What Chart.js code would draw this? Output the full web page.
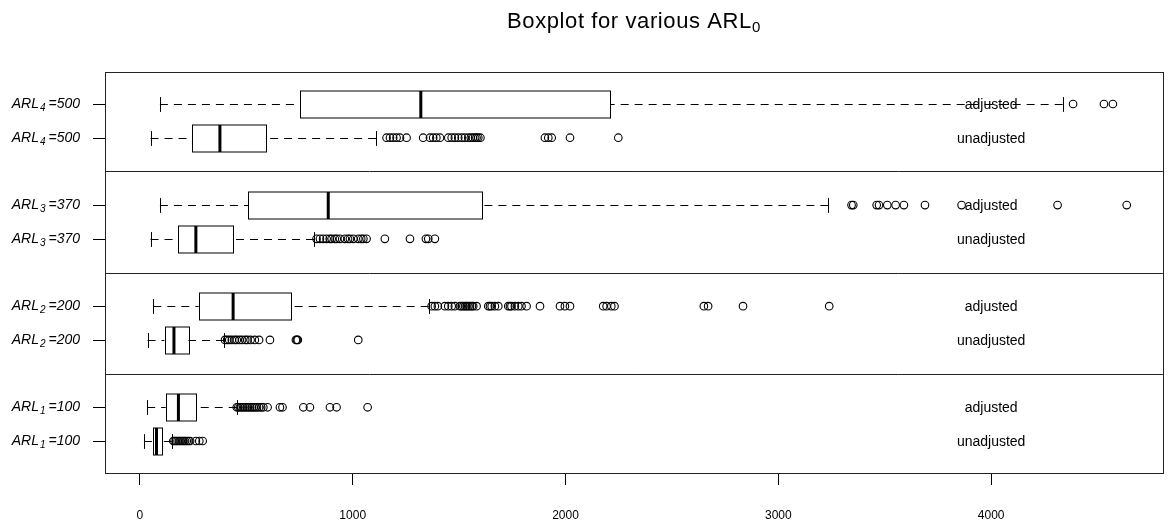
<!DOCTYPE html>
<html>
<head>
<meta charset="utf-8">
<title>Boxplot for various ARL0</title>
<script src="https://cdn.jsdelivr.net/npm/chart.js@4.4.1/dist/chart.umd.min.js"></script>
<style>
    body { margin: 0; background: #fff; }
    #wrap { position: relative; width: 1168px; height: 524px; }
</style>
</head>
<body>
<div id="wrap"><canvas id="boxChart"></canvas></div>
<script>
console.log("boxplot init")

// rows from top to bottom
var arlIdx = [4, 4, 3, 3, 2, 2, 1, 1];
var arlVal = [500, 500, 370, 370, 200, 200, 100, 100];
var methodLabels = ['adjusted', 'unadjusted', 'adjusted', 'unadjusted', 'adjusted', 'unadjusted', 'adjusted', 'unadjusted'];
var rowPos = [1, 2, 4, 5, 7, 8, 10, 11];
var groupLines = [3, 6, 9];

var whiskerLow = [94, 50, 94, 50, 63, 36, 34, 19];
var q1 = [752, 243, 509, 177, 277, 116, 122, 63];
var median = [1320, 376, 885, 263, 438, 160, 181, 78];
var q3 = [2209, 592, 1609, 436, 710, 227, 263, 107];
var whiskerHigh = [4336, 1110, 3235, 818, 1357, 395, 455, 150];

var outliers = [
    [4385, 4530, 4572],
    [1159, 1175, 1190, 1206, 1222, 1253, 1331, 1363, 1378, 1393, 1410, 1449, 1465, 1480, 1496, 1512, 1527, 1543,
        1555, 1565, 1575, 1582, 1590, 1600, 1903, 1919, 1935, 2021, 2248],
    [3344, 3352, 3462, 3473, 3512, 3551, 3590, 3689, 3861, 4312, 4637],
    [830, 846, 861, 877, 892, 901, 916, 925, 940, 963, 978, 987, 1003, 1026, 1040, 1050, 1065, 1151, 1269, 1344,
        1355, 1386],
    [1371, 1386, 1400, 1433, 1449, 1465, 1480, 1504, 1512, 1520, 1528, 1535, 1543, 1551, 1560, 1566, 1582, 1637,
        1645, 1653, 1668, 1684, 1731, 1739, 1746, 1762, 1778, 1793, 1817, 1880, 1974, 1997, 2021, 2177, 2193, 2215,
        2230, 2650, 2670, 2834, 3239],
    [400, 410, 420, 432, 445, 455, 468, 480, 495, 505, 520, 540, 560, 611, 733, 738, 742, 1026],
    [455, 462, 470, 478, 486, 494, 502, 510, 518, 526, 534, 542, 550, 560, 570, 580, 600, 658, 670, 768, 799, 893,
        924, 1070],
    [157, 163, 170, 177, 184, 191, 198, 205, 212, 220, 228, 236, 263, 279, 295]
];

var xTicks = [0, 1000, 2000, 3000, 4000];
var xMin = -164, xMax = 4807;
var methodTextAt = 4000;

var boxHalf = 0.4;
var stapleHalf = 0.22;

var fontMain = '"Liberation Sans", Arial, sans-serif';

function drawLabel(ctx, right, y, idx, val) {
    // ARL_i =val, italic with a subscript
    var big = 'italic 14px ' + fontMain;
    var small = 'italic 10px ' + fontMain;
    ctx.font = big;
    var w1 = ctx.measureText('ARL').width;
    var w3 = ctx.measureText(' =' + val).width;
    ctx.font = small;
    var w2 = ctx.measureText(String(idx)).width;
    var x = right - (w1 + w2 + w3);
    ctx.textAlign = 'left';
    ctx.textBaseline = 'middle';
    ctx.font = big;
    ctx.fillText('ARL', x, y);
    ctx.font = small;
    ctx.fillText(String(idx), x + w1 + 1, y + 4);
    ctx.font = big;
    ctx.fillText(' =' + val, x + w1 + w2, y);
}

var boxPlugin = {
    id: 'boxPlugin',
    beforeDatasetsDraw: function (chart) {
        var ctx = chart.ctx;
        var xs = chart.scales.x, ys = chart.scales.y;
        var half = Math.abs(ys.getPixelForValue(boxHalf) - ys.getPixelForValue(0));
        var sh = Math.abs(ys.getPixelForValue(stapleHalf) - ys.getPixelForValue(0));
        ctx.save();
        ctx.strokeStyle = '#000';
        ctx.lineWidth = 1;

        for (var i = 0; i < rowPos.length; i++) {
            var y = Math.round(ys.getPixelForValue(rowPos[i])) + 0.5;
            var xl = xs.getPixelForValue(whiskerLow[i]);
            var x1 = xs.getPixelForValue(q1[i]);
            var xm = xs.getPixelForValue(median[i]);
            var x3 = xs.getPixelForValue(q3[i]);
            var xh = xs.getPixelForValue(whiskerHigh[i]);

            // whiskers
            ctx.setLineDash([8, 6]);
            ctx.beginPath();
            ctx.moveTo(xl, y); ctx.lineTo(x1, y);
            ctx.moveTo(xh, y); ctx.lineTo(x3, y);
            ctx.stroke();
            ctx.setLineDash([]);

            // staples
            ctx.beginPath();
            ctx.moveTo(Math.round(xl) + 0.5, y - sh); ctx.lineTo(Math.round(xl) + 0.5, y + sh);
            ctx.moveTo(Math.round(xh) + 0.5, y - sh); ctx.lineTo(Math.round(xh) + 0.5, y + sh);
            ctx.stroke();

            // box
            ctx.fillStyle = '#fff';
            ctx.fillRect(x1, y - half, x3 - x1, 2 * half);
            ctx.strokeRect(Math.round(x1) + 0.5, Math.round(y - half), Math.round(x3 - x1), Math.round(2 * half));

            // median
            ctx.lineWidth = 3;
            ctx.beginPath();
            ctx.moveTo(xm, y - half); ctx.lineTo(xm, y + half);
            ctx.stroke();
            ctx.lineWidth = 1;
        }

        // method text
        ctx.fillStyle = '#000';
        ctx.font = '14px ' + fontMain;
        ctx.textAlign = 'center';
        ctx.textBaseline = 'middle';
        for (var j = 0; j < rowPos.length; j++) {
            ctx.fillText(methodLabels[j], xs.getPixelForValue(methodTextAt), ys.getPixelForValue(rowPos[j]) + 1);
        }
        ctx.restore();
    },
    afterDraw: function (chart) {
        var ctx = chart.ctx;
        var ca = chart.chartArea;
        var ys = chart.scales.y;
        ctx.save();
        ctx.strokeStyle = '#222';
        ctx.lineWidth = 1;

        // group separators
        ctx.beginPath();
        groupLines.forEach(function (g) {
            var gy = Math.round(ys.getPixelForValue(g)) + 0.5;
            ctx.moveTo(ca.left, gy);
            ctx.lineTo(ca.right, gy);
        });
        ctx.stroke();

        // frame
        ctx.strokeRect(Math.round(ca.left) + 0.5, Math.round(ca.top) + 0.5,
            Math.round(ca.right - ca.left), Math.round(ca.bottom - ca.top));

        // y ticks and labels
        ctx.strokeStyle = '#000';
        ctx.fillStyle = '#000';
        for (var i = 0; i < rowPos.length; i++) {
            var y = Math.round(ys.getPixelForValue(rowPos[i])) + 0.5;
            ctx.beginPath();
            ctx.moveTo(ca.left - 12, y);
            ctx.lineTo(ca.left, y);
            ctx.stroke();
            drawLabel(ctx, ca.left - 25, y, arlIdx[i], arlVal[i]);
        }

        // title with subscript 0
        var tf = '22px ' + fontMain;
        var sf = '15px ' + fontMain;
        ctx.font = tf;
        ctx.letterSpacing = '0.6px';
        var tw = ctx.measureText('Boxplot for various ARL').width;
        ctx.font = sf;
        var sw = ctx.measureText('0').width;
        var cx = (ca.left + ca.right) / 2;
        var tx = cx - (tw + sw) / 2;
        ctx.textAlign = 'left';
        ctx.textBaseline = 'middle';
        ctx.font = tf;
        ctx.fillText('Boxplot for various ARL', tx, 22);
        ctx.font = sf;
        ctx.fillText('0', tx + tw, 28);
        ctx.restore();
    }
};

var datasets = outliers.map(function (vals, i) {
    return {
        label: methodLabels[i] + ' ' + arlVal[i],
        data: vals.map(function (v) { return {x: v, y: rowPos[i]}; }),
        pointStyle: 'circle',
        pointRadius: 3.8,
        pointBorderWidth: 1.1,
        borderColor: '#000',
        backgroundColor: 'rgba(0,0,0,0)',
        showLine: false
    };
});

var chart = new Chart(document.getElementById('boxChart'), {
    type: 'scatter',
    data: {datasets: datasets},
    plugins: [boxPlugin],
    options: {
        responsive: true,
        maintainAspectRatio: false,
        animation: false,
        layout: {padding: {top: 72, right: 5, bottom: 0, left: 0}},
        plugins: {
            legend: {display: false},
            tooltip: {enabled: false},
            title: {display: false}
        },
        scales: {
            x: {
                type: 'linear',
                min: xMin,
                max: xMax,
                afterBuildTicks: function (scale) {
                    scale.ticks = xTicks.map(function (v) { return {value: v}; });
                },
                afterFit: function (scale) { scale.height = 51; },
                grid: {drawOnChartArea: false, drawTicks: true, tickLength: 12, color: '#000'},
                border: {display: false},
                ticks: {
                    padding: 23,
                    color: '#000',
                    font: {family: '"Liberation Sans", Arial', size: 12},
                    callback: function (v) { return String(v); }
                }
            },
            y: {
                type: 'linear',
                reverse: true,
                min: 0.05,
                max: 11.95,
                afterFit: function (scale) { scale.width = 105; },
                grid: {display: false},
                border: {display: false},
                ticks: {display: false}
            }
        }
    }
});
</script>
</body>
</html>
